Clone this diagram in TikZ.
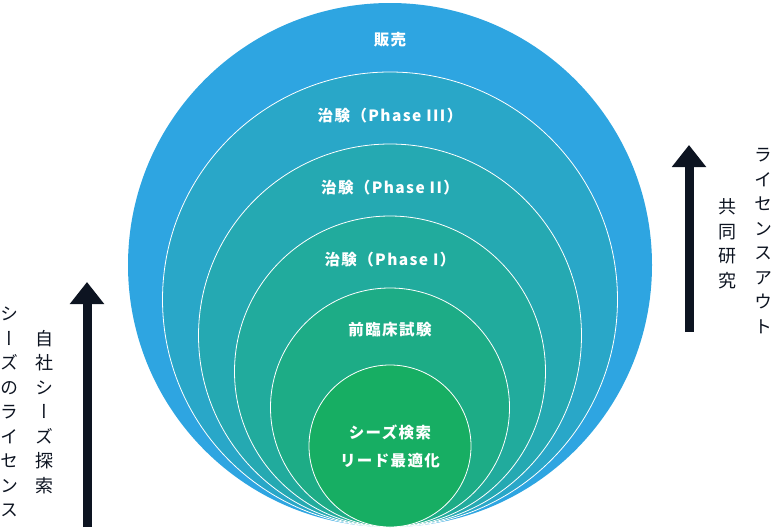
\documentclass[tikz,border=0pt]{standalone}
\usepackage{fontspec}
\setmainfont{Noto Sans CJK JP}
\newfontfamily\jplabel[LetterSpace=9]{Noto Sans CJK JP}
\newfontfamily\jpvert[Vertical=Alternates]{Noto Sans CJK JP}
\usetikzlibrary{arrows.meta,positioning}
\definecolor{figStage1}{HTML}{2EA5E1}
\definecolor{figStage2}{HTML}{29A7C8}
\definecolor{figStage3}{HTML}{25A9B2}
\definecolor{figStage4}{HTML}{21AB9D}
\definecolor{figStage5}{HTML}{1DAC86}
\definecolor{figStage6}{HTML}{17AE63}
\definecolor{figInk}{HTML}{0D1421}

\begin{document}
\begin{tikzpicture}[
  x=1pt, y=-1pt,
  stage/.style={draw=white, line width=0.8pt},
  label/.style={
    font=\jplabel\bfseries\fontsize{15.5}{28}\selectfont, text=white,
    align=center, inner sep=0pt,
  },
  vtext/.style={
    font=\jpvert\fontsize{18}{24.5}\selectfont, text=figInk,
    align=center, inner sep=0pt,
  },
  bigarrow/.style={
    draw=figInk, line width=9pt,
    -{Triangle[length=22pt, width=33pt]},
  },
]
\useasboundingbox (0,0) rectangle (774,530);

% === Stages (circles touching at the bottom) ===
\fill[figStage1] (390,265) circle[radius=262pt];
\filldraw[stage, fill=figStage2] (390,299.5) circle[radius=227.5pt];
\filldraw[stage, fill=figStage3] (390,335.5) circle[radius=191.5pt];
\filldraw[stage, fill=figStage4] (390,371.5) circle[radius=155.5pt];
\filldraw[stage, fill=figStage5] (390,407.5) circle[radius=119.5pt];
\filldraw[stage, fill=figStage6] (390,446) circle[radius=81pt];

% === Stage labels ===
\node[label] (sales) at (390,40) {販売};
\node[label] (phase3) at (390,116) {治験（Phase III）};
\node[label] (phase2) at (390,188) {治験（Phase II）};
\node[label] (phase1) at (390,260) {治験（Phase I）};
\node[label] (preclin) at (390,330) {前臨床試験};
\node[label] (seeds) at (390,446) {シーズ検索\\リード最適化};

% === Left arrow ===
\coordinate (lbase) at (87,527);
\coordinate (ltip) at (87,282);
\draw[bigarrow] (lbase) -- (ltip);
\node[vtext] (inhouse) at (44,412) {自\\社\\シ\\ー\\ズ\\探\\索};
\node[vtext] (licensein) at (10,412) {シ\\ー\\ズ\\の\\ラ\\イ\\セ\\ン\\ス};

% === Right arrow ===
\coordinate (rbase) at (689,332);
\coordinate (rtip) at (689,145);
\draw[bigarrow] (rbase) -- (rtip);
\node[vtext] (licenseout) at (763,241) {ラ\\イ\\セ\\ン\\ス\\ア\\ウ\\ト};
\node[vtext] (joint) at (727,244) {共\\同\\研\\究};

\end{tikzpicture}
\end{document}
